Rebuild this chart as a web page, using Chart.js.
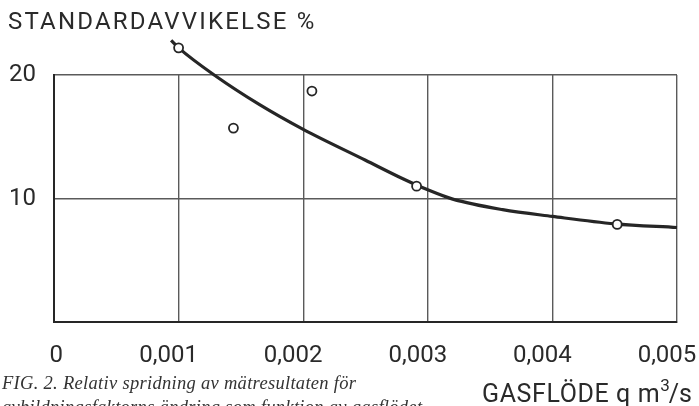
<!DOCTYPE html>
<html>
<head>
<meta charset="utf-8">
<script src="https://cdn.jsdelivr.net/npm/chart.js@4/dist/chart.umd.min.js"></script>
<style>
  html, body { margin: 0; padding: 0; background: #ffffff; }
  #wrap { width: 699px; height: 406px; position: relative; }
</style>
</head>
<body>
<div id="wrap"><canvas id="chart" width="699" height="406"></canvas></div>
<script>
// Measured points: gas flow (m3/s) and relative standard deviation (%)
const flowRates = [0.001, 0.00144, 0.00207, 0.00291, 0.00452];
const deviations = [22.2, 15.7, 18.7, 11.0, 7.9];

// Hand-fitted trend curve through the measurements
const curveFlow = [0.00094, 0.001, 0.0013, 0.00165, 0.002, 0.0025, 0.0028, 0.003, 0.0032, 0.0036, 0.004, 0.0045, 0.005];
const curveDev  = [22.8, 22.2, 19.9, 17.6, 15.6, 13.1, 11.6, 10.7, 9.95, 9.1, 8.55, 7.95, 7.65];

// Axis ticks
const xTicks = [0, 0.001, 0.002, 0.003, 0.004, 0.005];
const yTicks = [0, 10, 20];

const INK = '#262626';
const GRID = '#5a5a5a';

// Points lying above the top gridline are still drawn by their own elements
const overflowPoints = {
  id: 'overflowPoints',
  afterDatasetsDraw(chart) {
    const meta = chart.getDatasetMeta(0);
    const top = chart.chartArea.top;
    meta.data.forEach(pt => {
      if (pt.y < top + 5) pt.draw(chart.ctx);
    });
  }
};

const textPlugin = {
  id: 'figureText',
  afterDraw(chart) {
    const ctx = chart.ctx;
    ctx.save();
    ctx.fillStyle = '#2a2a2a';
    ctx.textBaseline = 'alphabetic';
    ctx.textAlign = 'left';

    // Y axis title
    ctx.font = '24px Roboto';
    ctx.letterSpacing = '2.2px';
    ctx.fillText('STANDARDAVVIKELSE %', 8, 29);

    // X axis title with superscript exponent
    ctx.font = '25px Roboto';
    ctx.letterSpacing = '0.6px';
    let x = 482;
    const base = 402;
    const main = 'GASFLÖDE q m';
    ctx.fillText(main, x, base);
    x += ctx.measureText(main).width;
    ctx.font = '17px Roboto';
    ctx.letterSpacing = '0px';
    ctx.fillText('3', x, base - 11);
    x += ctx.measureText('3').width - 1;
    ctx.font = '25px Roboto';
    ctx.fillText('/s', x, base);

    // Figure caption
    ctx.letterSpacing = '0.3px';
    ctx.fillStyle = '#333333';
    ctx.font = 'italic 18.5px "Liberation Serif"';
    ctx.fillText('FIG. 2. Relativ spridning av mätresultaten för', 2, 389);
    ctx.fillText('avbildningsfaktorns ändring som funktion av gasflödet', 2, 413);
    ctx.restore();
  }
};

const ctx = document.getElementById('chart').getContext('2d');
new Chart(ctx, {
  type: 'scatter',
  data: {
    datasets: [
      {
        label: 'Mätvärden',
        data: flowRates.map((q, i) => ({ x: q, y: deviations[i] })),
        pointRadius: 4.5,
        pointBackgroundColor: '#ffffff',
        pointBorderColor: INK,
        pointBorderWidth: 1.8,
        showLine: false,
        clip: false
      },
      {
        label: 'Kurva',
        type: 'line',
        data: curveFlow.map((q, i) => ({ x: q, y: curveDev[i] })),
        borderColor: INK,
        borderWidth: 3.2,
        pointRadius: 0,
        fill: false,
        cubicInterpolationMode: 'monotone',
        clip: false
      }
    ]
  },
  options: {
    responsive: false,
    animation: false,
    events: [],
    layout: { padding: { left: 0, right: 22, top: 75, bottom: 0 } },
    plugins: {
      legend: { display: false },
      tooltip: { enabled: false },
      title: { display: false }
    },
    scales: {
      x: {
        type: 'linear',
        min: 0,
        max: 0.005,
        afterBuildTicks(scale) { scale.ticks = xTicks.map(v => ({ value: v })); },
        afterFit(scale) {
          scale.height = 84;
          scale.paddingLeft = 0;
          scale.paddingRight = 0;
        },
        grid: { color: GRID, lineWidth: 1.4, drawTicks: false },
        border: { display: true, color: INK, width: 2 },
        ticks: {
          padding: 20,
          labelOffset: -10,
          maxRotation: 0,
          color: '#2a2a2a',
          font: { family: 'Roboto', size: 24 },
          callback: v => v === 0 ? '\u2002\u20020' : v.toFixed(3).replace('.', ',')
        }
      },
      y: {
        type: 'linear',
        min: 0,
        max: 20,
        afterBuildTicks(scale) { scale.ticks = yTicks.map(v => ({ value: v })); },
        afterFit(scale) {
          scale.width = 54;
          scale.paddingTop = 0;
          scale.paddingBottom = 0;
        },
        grid: { color: GRID, lineWidth: 1.4, drawTicks: false },
        border: { display: true, color: INK, width: 2 },
        ticks: {
          padding: 18,
          color: '#2a2a2a',
          font: { family: 'Roboto', size: 24 },
          callback: v => v === 0 ? '' : String(v)
        }
      }
    }
  },
  plugins: [overflowPoints, textPlugin]
});
</script>
</body>
</html>
